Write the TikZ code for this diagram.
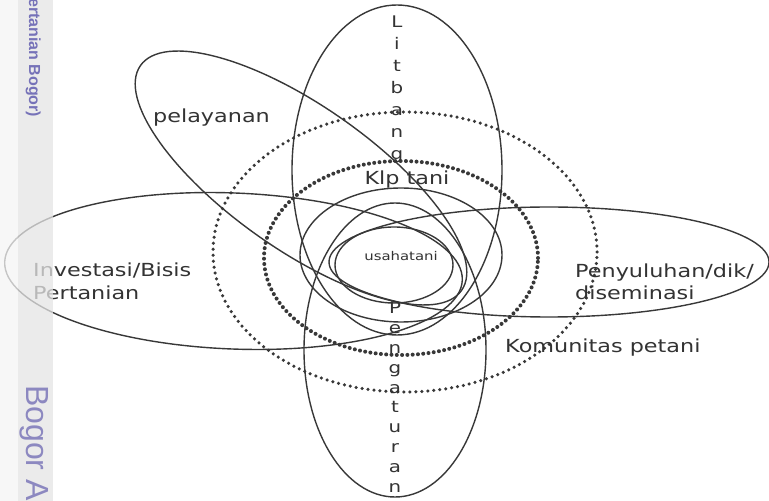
\documentclass[tikz,border=0pt]{standalone}
\usepackage{fontspec}
\newfontfamily\lbl[FakeStretch=1.24]{DejaVu Sans}
\newfontfamily\wmark{Liberation Sans}
\definecolor{ink}{HTML}{383838}
\definecolor{txt}{HTML}{333333}
\definecolor{wmA}{RGB}{118,114,184}
\definecolor{wmB}{RGB}{140,136,192}
\tikzset{
  ring/.style={draw=ink, line width=1.4pt},
  dotring/.style={draw=ink, line width=4pt, line cap=round, dash pattern=on 0pt off 5.3pt},
  dotringout/.style={draw=ink, line width=3.5pt, line cap=round, dash pattern=on 0pt off 6pt},
  lab/.style={inner sep=0pt, text=txt, font=\lbl\fontsize{18}{23}\selectfont},
  letter/.style={inner sep=0pt, text=txt, anchor=base, font=\lbl\fontsize{16}{20}\selectfont},
}
\begin{document}
\begin{tikzpicture}[x=1pt,y=1pt]
\fill[white] (0,0) rectangle (769,501);
\useasboundingbox (0,0) rectangle (769,501);
% dotted community rings
\draw[dotringout] (405,249) ellipse [x radius=192, y radius=140];
\draw[dotring] (401,243) ellipse [x radius=137, y radius=97];
% big petals
\draw[ring] (397,331) ellipse [x radius=105, y radius=165];
\draw[ring] (395,151) ellipse [x radius=91, y radius=147];
\draw[ring, rotate around={-35:(301,323)}] (301,323) ellipse [x radius=196, y radius=72];
\draw[ring, rotate around={-2.3:(233.5,230)}] (233.5,230) ellipse [x radius=229, y radius=78];
\draw[ring] (549,239) ellipse [x radius=220, y radius=55];
% inner rings
\draw[ring] (401,246) ellipse [x radius=101, y radius=67];
\draw[ring] (394,236) ellipse [x radius=59, y radius=38];
% labels
\node[lab, anchor=base] (klp) at (407,316) {Klp tani};
\node[inner sep=0pt, text=txt, anchor=base, font=\lbl\fontsize{12}{14}\selectfont] (usaha) at (401,240) {usahatani};
\node[lab, anchor=base west] (pel) at (153,378) {pelayanan};
\node[lab, anchor=base west] (inv1) at (33,224) {Investasi/Bisis};
\node[lab, anchor=base west] (inv2) at (33,201) {Pertanian};
\node[lab, anchor=base west] (pen1) at (575,223) {Penyuluhan/dik/};
\node[lab, anchor=base west] (pen2) at (575,201) {diseminasi};
\node[lab, anchor=base west] (kom) at (505,148) {Komunitas petani};
\foreach \ch [count=\i] in {L,i,t,b,a,n,g}
  \node[letter] (lit\i) at (397,{473-22*(\i-1)}) {\ch};
\foreach \ch [count=\i] in {P,e,n,g,a,t,u,r,a,n}
  \node[letter] (pgt\i) at (395,{187-19.8*(\i-1)}) {\ch};
% watermark band
\fill[fill=black!4, fill opacity=0.75] (0,0) rectangle (18,501);
\fill[fill=black!10, fill opacity=0.75] (18,0) rectangle (53,501);
\node[inner sep=0pt, anchor=base west, rotate=-90, text=wmA, font=\wmark\bfseries\fontsize{16}{18}\selectfont] (wm1) at (29,503) {ertanian Bogor)};
\node[inner sep=0pt, anchor=base west, rotate=-90, text=wmB, font=\wmark\fontsize{32}{36}\selectfont] (wm2) at (26,116) {Bogor A};
\end{tikzpicture}
\end{document}
